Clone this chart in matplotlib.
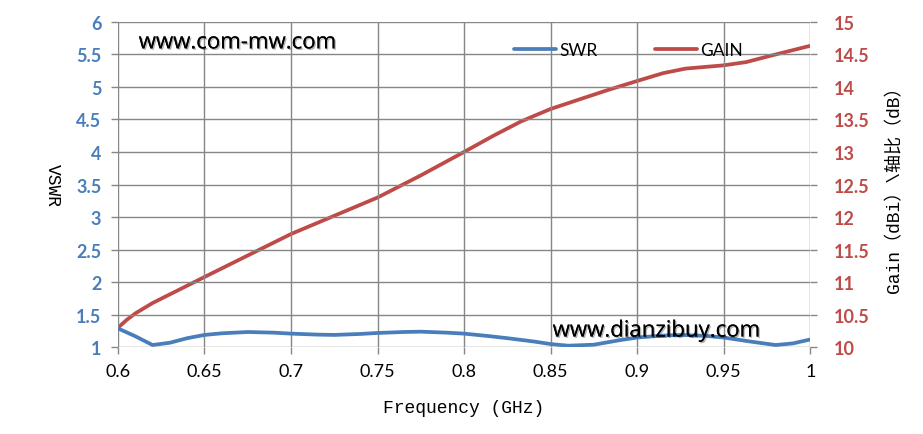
import matplotlib
matplotlib.use('Agg')
import matplotlib.pyplot as plt
import matplotlib.patheffects as pe

# data
swr_freq = [0.6, 0.61, 0.62, 0.63, 0.64, 0.65, 0.66, 0.675, 0.69, 0.7, 0.715, 0.725,
            0.74, 0.75, 0.765, 0.775, 0.79, 0.8, 0.815, 0.825, 0.84, 0.85, 0.86,
            0.875, 0.89, 0.9, 0.915, 0.925, 0.94, 0.95, 0.965, 0.98, 0.99, 1.0]
swr = [1.29, 1.17, 1.035, 1.07, 1.14, 1.19, 1.215, 1.235, 1.225, 1.21, 1.195, 1.19,
       1.205, 1.22, 1.235, 1.24, 1.225, 1.21, 1.17, 1.14, 1.09, 1.05, 1.025,
       1.04, 1.11, 1.15, 1.18, 1.19, 1.175, 1.15, 1.09, 1.035, 1.06, 1.12]
gain_freq = [0.6, 0.605, 0.61, 0.62, 0.635, 0.65, 0.675, 0.7, 0.725, 0.75, 0.775, 0.8,
             0.817, 0.833, 0.85, 0.867, 0.883, 0.9, 0.915, 0.928, 0.95, 0.963, 0.976,
             1.0]
gain = [10.30, 10.42, 10.52, 10.68, 10.88, 11.08, 11.41, 11.74, 12.02, 12.30, 12.64,
        13.0, 13.25, 13.47, 13.66, 13.81, 13.95, 14.09, 14.21, 14.28, 14.33, 14.38,
        14.47, 14.63]

x_ticks = [0.6, 0.65, 0.7, 0.75, 0.8, 0.85, 0.9, 0.95, 1.0]
x_labels = ['0.6', '0.65', '0.7', '0.75', '0.8', '0.85', '0.9', '0.95', '1']
swr_ticks = [1, 1.5, 2, 2.5, 3, 3.5, 4, 4.5, 5, 5.5, 6]
gain_ticks = [10, 10.5, 11, 11.5, 12, 12.5, 13, 13.5, 14, 14.5, 15]

blue = '#4A7EBB'
red = '#BE4B48'
grid_c = '#868686'

plt.rcParams['font.family'] = ['Lato', 'DejaVu Sans']

fig = plt.figure(figsize=(9.23, 4.35), dpi=100)
ax = fig.add_axes([0.1278, 0.1993, 0.7500, 0.7485])
ax2 = ax.twinx()

l1, = ax.plot(swr_freq, swr, color=blue, lw=2.7, label='SWR',
              solid_capstyle='round', solid_joinstyle='round')
l2, = ax2.plot(gain_freq, gain, color=red, lw=2.7, label='GAIN',
               solid_capstyle='round', solid_joinstyle='round')

ax.set_xlim(0.6, 1.0)
ax.set_ylim(1, 6)
ax2.set_ylim(10, 15)
ax.set_xticks(x_ticks)
ax.set_xticklabels(x_labels, fontsize=13)
ax.set_yticks(swr_ticks)
ax.set_yticklabels([('%g' % v) for v in swr_ticks], fontsize=13, fontweight='bold', color=blue)
ax2.set_yticks(gain_ticks)
ax2.set_yticklabels([('%g' % v) for v in gain_ticks], fontsize=13, fontweight='bold', color=red)

ax.grid(True, color=grid_c, lw=1)
for a in (ax, ax2):
    for s in a.spines.values():
        s.set_visible(False)
    a.tick_params(color=grid_c, length=5, width=1)
ax.tick_params(axis='x', pad=6)
ax.tick_params(axis='y', pad=7)
ax2.tick_params(axis='y', pad=12)
ax.set_zorder(ax2.get_zorder() + 1)
ax.patch.set_visible(False)

mono = ['Liberation Mono', 'Noto Sans CJK SC']
ax.set_xlabel('Frequency (GHz)', fontsize=13, family=mono, labelpad=15)
ax.set_ylabel('VSWR', fontsize=13, family=mono, rotation=-90, labelpad=17, va='center')
ax2.set_ylabel('Gain（dBi）\\轴比（dB）', fontsize=13, family=mono, labelpad=12)

shadow = [pe.withSimplePatchShadow(offset=(1, -1), alpha=0.3), pe.Normal()]
ax.text(0.03, 0.935, 'www.com-mw.com', transform=ax.transAxes, fontsize=16,
        va='center', ha='left', family=['Open Sans', 'DejaVu Sans'], path_effects=shadow)
ax.text(0.628, 0.05, 'www.dianzibuy.com', transform=ax.transAxes, fontsize=16,
        va='center', ha='left', family=['Open Sans', 'DejaVu Sans'], path_effects=shadow)

ax.legend(handles=[l1, l2], loc='upper left', bbox_to_anchor=(0.55, 0.985), ncol=2,
          frameon=False, fontsize=12.5, handlelength=2.4, columnspacing=3.3,
          handletextpad=0.2)

fig.savefig('out.png', dpi=100)
